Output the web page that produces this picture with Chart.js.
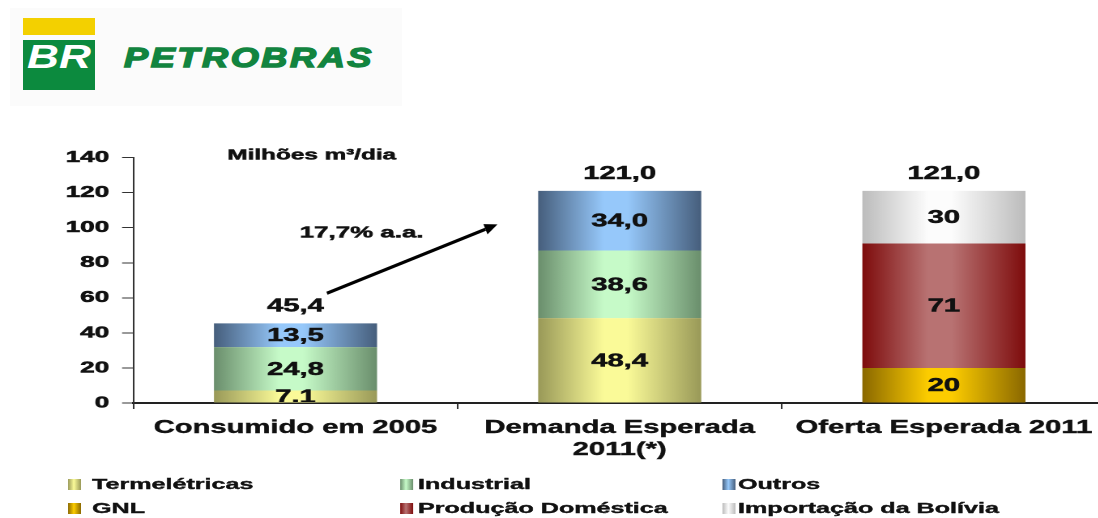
<!DOCTYPE html>
<html>
<head>
<meta charset="utf-8">
<script src="https://cdn.jsdelivr.net/npm/chart.js@4.4.1/dist/chart.umd.min.js"></script>
<style>
  html, body { margin: 0; padding: 0; background: #fff; width: 1098px; height: 518px; overflow: hidden; font-family: "Liberation Sans", Arial, sans-serif; }
  .abs { position: absolute; }
  #logo-bg { left: 10px; top: 8px; width: 392px; height: 98px; background: #fbfbfb; }
  #br-yellow { left: 23px; top: 18px; width: 72px; height: 17px; background: #f3d000; }
  #br-green { left: 23px; top: 40px; width: 72px; height: 50px; background: #0c8a3e; }
  #br-text { left: 27px; top: 37px; color: #fff; font: italic bold 34px "Liberation Sans", Arial, sans-serif; transform: scaleX(1.3); transform-origin: 0 0; }
  #petro { left: 124px; top: 42px; color: #12843f; font: italic bold 28px "Liberation Sans", Arial, sans-serif; letter-spacing: 2px; -webkit-text-stroke: 1.4px #12843f; transform: scaleX(1.29); transform-origin: 0 0; white-space: nowrap; }
  /* the whole chart in the reference is stretched sideways */
  #stretch { left: 0; top: 0; width: 690px; height: 518px; transform: scaleX(1.62); transform-origin: 0 0; }
  #chart-box { left: 0; top: 140px; width: 690px; height: 330px; }
  .leg-mark { width: 8px; height: 11px; }
  .leg-text { font: bold 15.5px "Liberation Sans", Arial, sans-serif; color: #111; white-space: nowrap; line-height: 18px; -webkit-text-stroke: 0.4px #111; }
</style>
</head>
<body>
<div id="logo-bg" class="abs"></div>
<div id="br-yellow" class="abs"></div>
<div id="br-green" class="abs"></div>
<div id="br-text" class="abs">BR</div>
<div id="petro" class="abs">PETROBRAS</div>

<div id="stretch" class="abs">
  <div id="chart-box" class="abs"><canvas id="chart" width="690" height="330"></canvas></div>
  <div id="legend"></div>
</div>

<script>
// ----- data -----
var categories = ["Consumido em 2005", ["Demanda Esperada", "2011(*)"], "Oferta Esperada 2011"];
var seriesNames = ["Termelétricas", "Industrial", "Outros", "GNL", "Produção Doméstica", "Importação da Bolívia"];
var termeletricas = [7.1, 48.4, 0];
var industrial = [24.8, 38.6, 0];
var outros = [13.5, 34.0, 0];
var gnl = [0, 0, 20];
var producao = [0, 0, 71];
var importacao = [0, 0, 30];
var labelDecimals = [1, 1, 0];   // decimals shown inside the segments, per category
var yMax = 140;
var yStep = 20;

// edge / centre colours of the shaded bars
var darkColors = ["#999958", "#6a8e6c", "#465e7c", "#8a6800", "#7e0c0c", "#bcbcbc"];
var lightColors = ["#fafa98", "#c6fac8", "#96c8fa", "#fccc00", "#b87272", "#fcfcfc"];

// ----- geometry (screen px of the reference) -----
var S = 1.62;               // horizontal stretch
var CANVAS_W = 690;
var PLOT_LEFT = 133.4 / S;
var PLOT_RIGHT = 1106 / S;
var BAR_PCT = 0.503;
var FONT = '"Liberation Sans", Arial, sans-serif';

Chart.defaults.font.family = FONT;

function fmt(v, d) {
  return v.toFixed(d).replace(".", ",");
}

/**
 * Horizontal gradient across each bar: dark edges, light centre.
 */
function barGradient(di) {
  return function(c) {
    var chart = c.chart;
    var xs = chart.scales.x;
    if (c.dataIndex == null || !xs || !chart.chartArea) return lightColors[di];
    var center = xs.getPixelForValue(c.dataIndex);
    var half = (xs.width / categories.length) * BAR_PCT / 2;
    var g = chart.ctx.createLinearGradient(center - half, 0, center + half, 0);
    g.addColorStop(0, darkColors[di]);
    g.addColorStop(0.4, lightColors[di]);
    g.addColorStop(0.55, lightColors[di]);
    g.addColorStop(1, darkColors[di]);
    return g;
  };
}

var seriesData = [termeletricas, industrial, outros, gnl, producao, importacao];
var datasets = seriesData.map(function(d, i) {
  return {
    label: seriesNames[i],
    data: d,
    backgroundColor: barGradient(i),
    borderWidth: 0,
    barPercentage: BAR_PCT,
    categoryPercentage: 1,
  };
});

function boldText(ctx, text, x, y) {
  ctx.fillText(text, x, y);
  ctx.strokeText(text, x, y);
}

// Segment values, stack totals and the growth arrow
var labelPlugin = {
  id: "stackLabels",
  afterDatasetsDraw: function(chart) {
    var ctx = chart.ctx;
    var area = chart.chartArea;
    var xs = chart.scales.x;
    var ys = chart.scales.y;

    ctx.save();
    ctx.beginPath();
    ctx.rect(area.left, area.top, area.right - area.left, area.bottom - area.top - 1);
    ctx.clip();
    ctx.fillStyle = "#111";
    ctx.strokeStyle = "#111";
    ctx.lineWidth = 0.5;
    ctx.textAlign = "center";
    ctx.textBaseline = "middle";
    ctx.font = "bold 18px " + FONT;
    chart.data.datasets.forEach(function(ds, di) {
      var meta = chart.getDatasetMeta(di);
      meta.data.forEach(function(bar, i) {
        var v = ds.data[i];
        if (!v) return;
        boldText(ctx, fmt(v, labelDecimals[i]), bar.x, (bar.y + bar.base) / 2 + 1);
      });
    });
    ctx.restore();

    ctx.save();
    ctx.fillStyle = "#111";
    ctx.strokeStyle = "#111";
    ctx.lineWidth = 0.5;
    ctx.textAlign = "center";
    ctx.textBaseline = "middle";
    ctx.font = "bold 18px " + FONT;
    for (var i = 0; i < categories.length; i++) {
      var total = 0;
      seriesData.forEach(function(d) { total += d[i]; });
      boldText(ctx, fmt(total, 1), xs.getPixelForValue(i), ys.getPixelForValue(total) - 17);
    }

    // unit caption
    ctx.font = "bold 15px " + FONT;
    boldText(ctx, "Milhões m³/dia", xs.getPixelForValue(0.05), ys.getPixelForValue(141.2));

    // growth annotation
    ctx.font = "bold 16px " + FONT;
    boldText(ctx, "17,7% a.a.", xs.getPixelForValue(0.204), ys.getPixelForValue(96.8));

    var x1 = xs.getPixelForValue(0.097), y1 = ys.getPixelForValue(62.6);
    var x2 = xs.getPixelForValue(0.623), y2 = ys.getPixelForValue(101.9);
    // arrow in screen space so the head is not distorted by the stretch
    ctx.scale(1 / S, 1);
    var sx1 = x1 * S, sx2 = x2 * S;
    var ang = Math.atan2(y2 - y1, sx2 - sx1);
    var head = 13;
    var bx = sx2 - head * Math.cos(ang), by = y2 - head * Math.sin(ang);
    ctx.strokeStyle = "#000";
    ctx.lineWidth = 3.2;
    ctx.beginPath();
    ctx.moveTo(sx1, y1);
    ctx.lineTo(bx, by);
    ctx.stroke();
    ctx.fillStyle = "#000";
    ctx.beginPath();
    ctx.moveTo(sx2, y2);
    ctx.lineTo(bx + 5.5 * Math.sin(ang), by - 5.5 * Math.cos(ang));
    ctx.lineTo(bx - 5.5 * Math.sin(ang), by + 5.5 * Math.cos(ang));
    ctx.closePath();
    ctx.fill();
    ctx.restore();
  },
};

var canvas = document.getElementById("chart");
var chartInstance = new Chart(canvas.getContext("2d"), {
  type: "bar",
  data: { labels: categories, datasets: datasets },
  options: {
    responsive: false,
    devicePixelRatio: 2,
    animation: false,
    layout: { padding: { top: 17, left: 0, right: CANVAS_W - PLOT_RIGHT, bottom: 0 } },
    plugins: {
      legend: { display: false },
      tooltip: { enabled: false },
    },
    scales: {
      x: {
        stacked: true,
        offset: true,
        grid: { display: true, drawOnChartArea: false, offset: true, tickLength: 6, color: "#333", lineWidth: 1 },
        border: { display: true, color: "#222", width: 2 },
        ticks: {
          color: "#111",
          textStrokeColor: "#111",
          textStrokeWidth: 0.4,
          padding: 8,
          maxRotation: 0,
          autoSkip: false,
          font: { size: 18, weight: "bold", lineHeight: 1.22 },
        },
        afterFit: function(s) { s.height = 67; },
      },
      y: {
        stacked: true,
        min: 0,
        max: yMax,
        grid: { display: true, drawOnChartArea: false, tickLength: 7, color: "#333" },
        border: { display: true, color: "#333", width: 1 },
        ticks: {
          stepSize: yStep,
          color: "#111",
          textStrokeColor: "#111",
          textStrokeWidth: 0.6,
          padding: 8,
          font: { size: 16, weight: "bold" },
        },
        afterFit: function(s) { s.width = PLOT_LEFT; },
      },
    },
  },
  plugins: [labelPlugin],
});

// HTML legend in three columns, built from the datasets
var legend = document.getElementById("legend");
var markLeft = [68 / S, 400 / S, 722 / S];
var textLeft = [92 / S, 418 / S, 738 / S];
var rowTop = [475, 499];
chartInstance.data.datasets.forEach(function(ds, i) {
  var col = i % 3, row = Math.floor(i / 3);
  var m = document.createElement("div");
  m.className = "abs leg-mark";
  m.style.left = markLeft[col] + "px";
  m.style.top = (rowTop[row] + 4) + "px";
  m.style.background = "linear-gradient(to right, " + darkColors[i] + ", " + lightColors[i] + " 45%, " + darkColors[i] + ")";
  legend.appendChild(m);
  var t = document.createElement("div");
  t.className = "abs leg-text";
  t.style.left = textLeft[col] + "px";
  t.style.top = rowTop[row] + "px";
  t.textContent = ds.label;
  legend.appendChild(t);
});
</script>
</body>
</html>
